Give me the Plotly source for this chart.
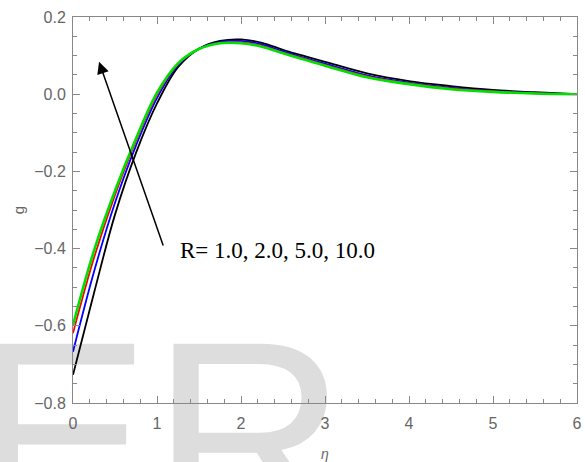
import plotly.graph_objects as go

eta = [0.0, 0.25, 0.5, 0.75, 1.0, 1.25, 1.5, 1.75, 2.0, 2.25, 2.5, 2.75, 3.0, 3.5, 4.0, 4.5, 5.0, 5.5, 6.0]

g_R1 = [-0.727, -0.515, -0.312, -0.152, -0.024, 0.070, 0.118, 0.138, 0.142, 0.133, 0.115, 0.099, 0.084, 0.054, 0.034, 0.021, 0.011, 0.005, 0.0]
g_R2 = [-0.667, -0.460, -0.281, -0.133, -0.010, 0.075, 0.118, 0.135, 0.138, 0.129, 0.111, 0.095, 0.079, 0.049, 0.030, 0.017, 0.008, 0.003, 0.0]
g_R5 = [-0.619, -0.424, -0.261, -0.121, -0.001, 0.078, 0.117, 0.133, 0.134, 0.125, 0.108, 0.092, 0.076, 0.046, 0.028, 0.015, 0.007, 0.002, 0.0]
g_R10 = [-0.598, -0.405, -0.250, -0.115, 0.004, 0.080, 0.117, 0.132, 0.132, 0.123, 0.106, 0.090, 0.074, 0.044, 0.026, 0.013, 0.006, 0.002, 0.0]

series = [
    ("R=1.0", g_R1, "black", 1.8),
    ("R=2.0", g_R2, "blue", 1.8),
    ("R=5.0", g_R5, "red", 1.8),
    ("R=10.0", g_R10, "#00e000", 2.6),
]

x_ticks = [0, 1, 2, 3, 4, 5, 6]
y_ticks = [-0.8, -0.6, -0.4, -0.2, 0.0, 0.2]

label_text = "R= 1.0, 2.0, 5.0, 10.0"
watermark = "ER"

fig = go.Figure()

# background watermark (drawn first so everything else sits on top)
fig.add_trace(go.Scatter(
    x=[1.02], y=[-0.603], mode="text", text=[watermark],
    textposition="bottom center",
    textfont=dict(family="Liberation Sans, Arial", size=271, color="#dddddd"),
    cliponaxis=False, hoverinfo="skip", showlegend=False,
))

for name, vals, color, w in series:
    fig.add_trace(go.Scatter(
        x=eta, y=vals, mode="lines", name=name,
        line=dict(color=color, width=w, shape="spline", smoothing=1.0),
        showlegend=False,
    ))

axis_common = dict(
    showline=True, linecolor="#888888", linewidth=1, mirror="allticks",
    ticks="inside", ticklen=7, tickwidth=1, tickcolor="#888888",
    showgrid=False, zeroline=False, automargin=False,
    tickfont=dict(family="Liberation Sans, Arial", size=16, color="#666666"),
)

fig.update_xaxes(
    range=[0, 6], tickvals=x_ticks, ticktext=[str(v) for v in x_ticks],
    minor=dict(dtick=0.2, tick0=0, ticks="inside", ticklen=4, tickcolor="#888888"),
    title=dict(text="<i>η</i>", font=dict(family="Liberation Sans, Arial", size=14, color="#666666"), standoff=25),
    ticklabelstandoff=6,
    **axis_common,
)
fig.update_yaxes(
    range=[-0.8, 0.2], tickvals=y_ticks, tickformat=".1f",
    minor=dict(dtick=0.05, tick0=0, ticks="inside", ticklen=4, tickcolor="#888888"),
    title=dict(text="g", font=dict(family="Liberation Sans, Arial", size=15, color="#666666"), standoff=5),
    ticklabelstandoff=3,
    **axis_common,
)

fig.add_annotation(
    x=0.31, y=0.084, ax=1.08, ay=-0.396, xref="x", yref="y", axref="x", ayref="y",
    text="", showarrow=True, arrowhead=2, arrowsize=1.6, arrowwidth=1.5, arrowcolor="black",
    standoff=0, startstandoff=0,
)
fig.add_annotation(
    x=2.43, y=-0.406, xref="x", yref="y", text=label_text, showarrow=False,
    font=dict(family="Liberation Serif, Times New Roman", size=23, color="black"),
)

fig.update_layout(
    width=585, height=462,
    margin=dict(l=73, r=8, t=17, b=59),
    paper_bgcolor="white", plot_bgcolor="rgba(0,0,0,0)",
    showlegend=False,
)

fig.write_html("out.html")
